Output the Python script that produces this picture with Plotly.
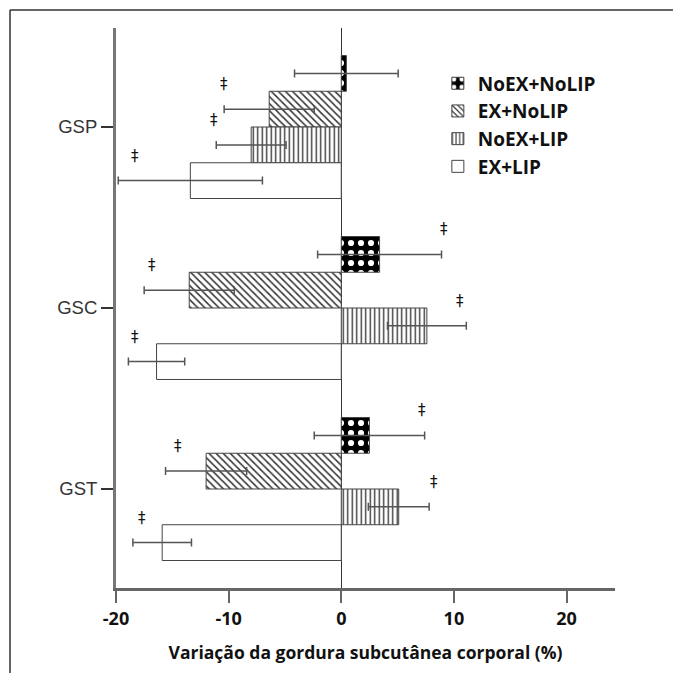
import plotly.graph_objects as go

categories = ["GSP", "GSC", "GST"]
series_names = ["NoEX+NoLIP", "EX+NoLIP", "NoEX+LIP", "EX+LIP"]

noex_nolip = [0.45, 3.4, 2.5]
ex_nolip = [-6.4, -13.5, -12.0]
noex_lip = [-8.0, 7.6, 5.1]
ex_lip = [-13.4, -16.4, -15.9]

noex_nolip_err = [4.6, 5.5, 4.9]
ex_nolip_err = [4.0, 4.0, 3.6]
noex_lip_err = [3.1, 3.5, 2.7]
ex_lip_err = [6.4, 2.5, 2.6]

# x position of the "‡" marks (None = no mark)
noex_nolip_dag = [None, 9.1, 7.2]
ex_nolip_dag = [-10.4, -16.8, -14.5]
noex_lip_dag = [-11.3, 10.5, 8.2]
ex_lip_dag = [-18.3, -18.3, -17.7]

x_ticks = [-20, -10, 0, 10, 20]

values = [noex_nolip, ex_nolip, noex_lip, ex_lip]
errors = [noex_nolip_err, ex_nolip_err, noex_lip_err, ex_lip_err]
daggers = [noex_nolip_dag, ex_nolip_dag, noex_lip_dag, ex_lip_dag]

patterns = [
    dict(shape=".", fgcolor="#ffffff", bgcolor="#000000", size=10, solidity=0.3, fgopacity=1, fillmode="replace"),
    dict(shape="\\", fgcolor="#333", bgcolor="white", size=5, solidity=0.3, fgopacity=1),
    dict(shape="|", fgcolor="#333", bgcolor="white", size=4.5, solidity=0.3, fgopacity=1),
    dict(shape="", fgcolor="#444", bgcolor="white"),
]

fig = go.Figure()
for name, v, e, p in zip(series_names, values, errors, patterns):
    fig.add_trace(go.Bar(
        y=categories, x=v, name=name, orientation="h",
        marker=dict(color=p["bgcolor"], line=dict(color="#444", width=1), pattern=p),
        error_x=dict(type="data", array=e, visible=True, color="#555", thickness=1.5, width=4),
    ))

bargap = 0.21
n = len(series_names)
bw = (1 - bargap) / n
annotations = []
for i, dl in enumerate(daggers):
    off = -(1 - bargap) / 2 + bw * (i + 0.5)
    for ci, dx in enumerate(dl):
        if dx is None:
            continue
        annotations.append(dict(
            x=dx, y=ci + off, xref="x", yref="y", text="‡", showarrow=False,
            yshift=25, font=dict(family="DejaVu Sans", size=15, color="#111"),
        ))

# page has an 8px body margin, so the figure is 8px smaller and margins shifted by 8
fig.update_layout(
    width=673, height=665,
    margin=dict(l=108, r=66, t=20, b=85),
    paper_bgcolor="white", plot_bgcolor="white",
    barmode="group", bargap=bargap, bargroupgap=0,
    showlegend=True,
    legend=dict(
        x=0.645, y=0.935, xanchor="left", yanchor="top", traceorder="normal",
        font=dict(family="Open Sans", size=19, color="#111", weight="bold"),
        bgcolor="rgba(0,0,0,0)", itemwidth=30, tracegroupgap=0,
    ),
    xaxis=dict(
        range=[-20, 24.3], tickvals=x_ticks, ticktext=[str(t) for t in x_ticks],
        showline=True, linecolor="#666", linewidth=3,
        ticks="outside", ticklen=12, tickwidth=2, tickcolor="#666",
        showgrid=False, zeroline=True, zerolinecolor="#333", zerolinewidth=1,
        tickfont=dict(family="Open Sans", size=18, color="#111", weight="bold"),
        title=dict(text="Variação da gordura subcutânea corporal (%)", standoff=19,
                   font=dict(family="Open Sans", size=17.5, color="#111", weight="bold")),
    ),
    yaxis=dict(
        type="category", categoryarray=categories, range=[2.547, -0.547],
        showline=True, linecolor="#777", linewidth=3,
        ticks="outside", ticklen=12, tickwidth=2, tickcolor="#333",
        showgrid=False,
        tickfont=dict(family="Liberation Sans", size=18.5, color="#333"),
    ),
    annotations=annotations,
    shapes=[
        dict(type="line", xref="paper", yref="paper", x0=-0.2124, x1=-0.2124, y0=-0.2, y1=1.032,
             line=dict(color="#333", width=1.5)),
        dict(type="line", xref="paper", yref="paper", x0=-0.2124, x1=1.2, y0=1.032, y1=1.032,
             line=dict(color="#333", width=1.5)),
    ],
)

fig.write_html("out.html")
